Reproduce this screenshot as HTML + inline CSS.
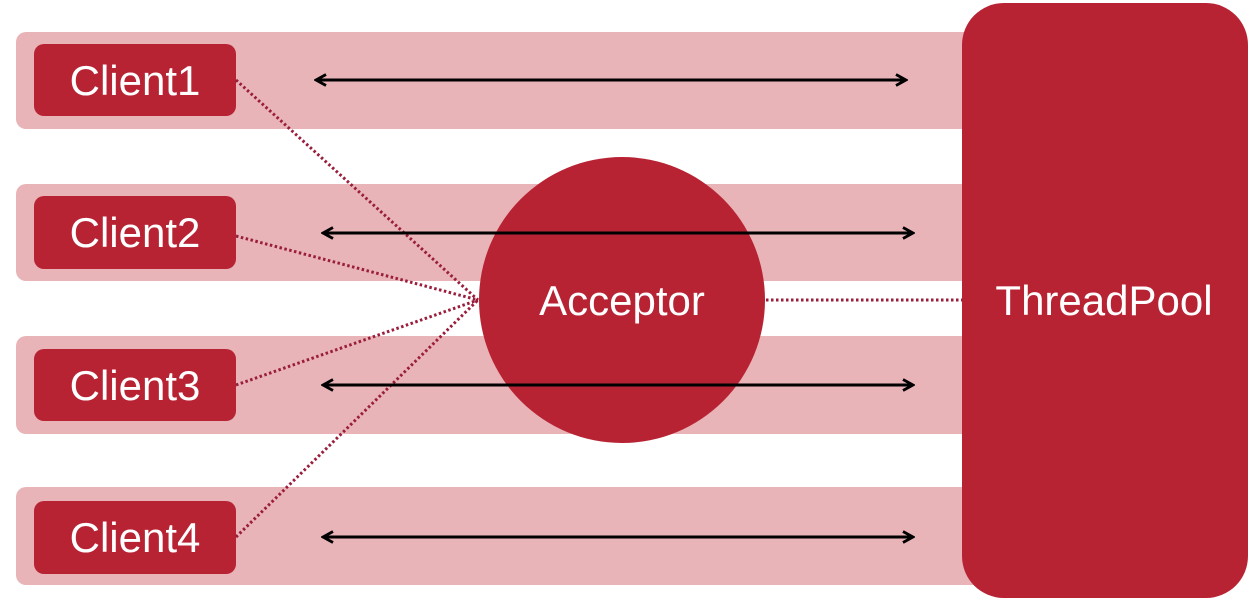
<!DOCTYPE html>
<html><head><meta charset="utf-8"><style>
html,body{margin:0;padding:0;background:#fff;width:1258px;height:608px;overflow:hidden}
text{font-family:"Liberation Sans",sans-serif;fill:#fff}
</style></head><body>
<svg width="1258" height="608" viewBox="0 0 1258 608" xmlns="http://www.w3.org/2000/svg">
<defs>
<marker id="a" viewBox="0 0 14 14" refX="12" refY="7" markerWidth="14" markerHeight="14" markerUnits="userSpaceOnUse" orient="auto-start-reverse">
<path d="M2,1.5 L12,7 L2,12.5" fill="none" stroke="#000" stroke-width="2.8"/>
</marker>
</defs>
<g fill="#e8b4b7">
<rect x="16" y="32" width="990" height="97" rx="10"/>
<rect x="16" y="184" width="990" height="97" rx="10"/>
<rect x="16" y="336" width="990" height="98" rx="10"/>
<rect x="16" y="487" width="990" height="98" rx="10"/>
</g>
<g fill="#b82334">
<rect x="34" y="44" width="202" height="72" rx="10"/>
<rect x="34" y="196" width="202" height="73" rx="10"/>
<rect x="34" y="349" width="202" height="72" rx="10"/>
<rect x="34" y="501" width="202" height="73" rx="10"/>
<circle cx="622" cy="300" r="143"/>
<rect x="962" y="3" width="286" height="595" rx="42"/>
</g>
<g stroke="#9a1e3c" stroke-width="3" stroke-dasharray="2.5 2.5" fill="none">
<line x1="236" y1="80" x2="478" y2="300"/>
<line x1="236" y1="236" x2="478" y2="300"/>
<line x1="236" y1="385" x2="478" y2="300"/>
<line x1="236" y1="537" x2="478" y2="300"/>
<line x1="766" y1="300" x2="962" y2="300"/>
</g>
<g stroke="#000" stroke-width="3" marker-start="url(#a)" marker-end="url(#a)">
<line x1="316" y1="80" x2="906" y2="80"/>
<line x1="323" y1="233" x2="913" y2="233"/>
<line x1="323" y1="385" x2="913" y2="385"/>
<line x1="323" y1="537" x2="913" y2="537"/>
</g>
<g font-size="42" text-anchor="middle">
<text x="135" y="95">Client1</text>
<text x="135" y="247">Client2</text>
<text x="135" y="400">Client3</text>
<text x="135" y="552">Client4</text>
<text x="622" y="315">Acceptor</text>
<text x="1104" y="315">ThreadPool</text>
</g>
</svg>
</body></html>
